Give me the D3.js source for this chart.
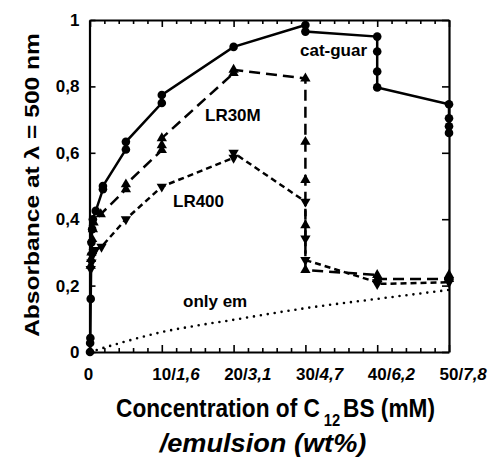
<!DOCTYPE html>
<html><head><meta charset="utf-8">
<script src="https://cdn.jsdelivr.net/npm/d3@7"></script>
<style>
html,body{margin:0;padding:0;background:#fff;}
svg{display:block;font-family:"Liberation Sans",Arial,Helvetica,sans-serif;}
</style></head>
<body>
<svg id="chart" width="489" height="458"></svg>
<script>
// ---- data ----
const catX = [0, 0.02, 0.05, 0.1, 0.2, 0.3, 0.4, 0.8, 1.8, 1.8, 5, 5, 10, 10, 20, 30, 30, 40, 40, 40, 40, 50, 50, 50, 50];
const catY = [0, 0.027, 0.042, 0.16, 0.33, 0.37, 0.40, 0.425, 0.49, 0.50, 0.61, 0.633, 0.75, 0.774, 0.919, 0.985, 0.965, 0.95, 0.905, 0.845, 0.797, 0.746, 0.704, 0.68, 0.66];
const lr30X = [0.1, 0.15, 0.2, 0.3, 0.4, 0.5, 1.5, 5, 5, 10, 10, 10, 20, 20, 30, 30, 30, 30, 30, 40, 40, 50, 50];
const lr30Y = [0.26, 0.28, 0.30, 0.34, 0.37, 0.39, 0.415, 0.49, 0.505, 0.608, 0.623, 0.644, 0.84, 0.85, 0.824, 0.633, 0.518, 0.382, 0.247, 0.232, 0.22, 0.22, 0.232];
const lr400X = [0.1, 0.2, 0.3, 0.5, 0.7, 1.6, 5, 10, 20, 20, 30, 30, 30, 40, 40, 50, 50];
const lr400Y = [0.25, 0.27, 0.29, 0.30, 0.307, 0.317, 0.40, 0.498, 0.585, 0.60, 0.453, 0.342, 0.277, 0.21, 0.205, 0.21, 0.215];
const emX = [0, 5, 10, 15, 20, 25, 30, 40, 50];
const emY = [0, 0.032, 0.06, 0.08, 0.097, 0.115, 0.132, 0.16, 0.187];
const xMajor = [0, 10, 20, 30, 40, 50];
const xLabMM = ["0", "10", "20", "30", "40", "50"];
const xLabWt = ["", "1,6", "3,1", "4,7", "6,2", "7,8"];
const yTicks = [0, 0.2, 0.4, 0.6, 0.8, 1];
const yLabels = ["0", "0,2", "0,4", "0,6", "0,8", "1"];
const seriesNames = ["cat-guar", "LR30M", "LR400", "only em"];

// ---- layout ----
const svg = d3.select("#chart");
const x = d3.scaleLinear().domain([0, 50]).range([90, 449]);
const y = d3.scaleLinear().domain([0, 1]).range([352, 20]);
const FONT = 17;

const minor = d3.range(0, 51, 2);

function styleAxis(g) {
  g.selectAll("path.domain").attr("stroke", "#000").attr("stroke-width", 2.2);
  g.selectAll(".tick line").attr("stroke", "#000").attr("stroke-width", 1.6);
}

// bottom axis (minor + major ticks inward)
const gB = svg.append("g").attr("transform", `translate(0,${y(0)})`)
  .call(d3.axisBottom(x).tickValues(minor).tickSize(-4).tickSizeOuter(0).tickFormat(""));
gB.selectAll(".tick line").attr("y2", d => (d % 10 === 0 ? -7 : -4));
styleAxis(gB);
// top axis
const gT = svg.append("g").attr("transform", `translate(0,${y(1)})`)
  .call(d3.axisTop(x).tickValues(minor).tickSize(-4).tickSizeOuter(0).tickFormat(""));
gT.selectAll(".tick line").attr("y2", d => (d % 10 === 0 ? 7 : 4));
styleAxis(gT);
// left axis
const gL = svg.append("g").attr("transform", `translate(${x(0) - 0.5},0)`)
  .call(d3.axisLeft(y).tickValues(yTicks).tickSize(-6).tickSizeOuter(0).tickPadding(10)
    .tickFormat((d, i) => yLabels[i]));
styleAxis(gL);
gL.selectAll(".tick text").attr("font-size", FONT).attr("font-weight", "bold").attr("fill", "#000")
  .attr("font-family", "Liberation Sans, Arial, sans-serif");
// right axis
const gR = svg.append("g").attr("transform", `translate(${x(50)},0)`)
  .call(d3.axisRight(y).tickValues(yTicks).tickSize(-7).tickSizeOuter(0).tickFormat(""));
styleAxis(gR);

// x tick labels: "10" centred on the tick, then "/" and italic wt%
xMajor.forEach((v, i) => {
  const t = svg.append("text").attr("y", 380).attr("font-size", FONT).attr("font-weight", "bold")
    .attr("text-anchor", "start");
  const a = t.append("tspan").text(xLabMM[i]);
  if (xLabWt[i]) {
    t.append("tspan").text("/");
    t.append("tspan").attr("font-style", "italic").text(xLabWt[i]);
  }
  const w = a.node().getComputedTextLength();
  t.attr("x", x(v) - w / 2 - (i === 0 ? 1.5 : 0));
});

// ---- lines ----
const line = d3.line().x(d => x(d[0])).y(d => y(d[1]));
const zip = (a, b) => a.map((v, i) => [v, b[i]]);
const cat = zip(catX, catY), lr30 = zip(lr30X, lr30Y), lr400 = zip(lr400X, lr400Y), em = zip(emX, emY);

const plot = svg.append("g");
plot.append("path").datum(em).attr("d", line.curve(d3.curveMonotoneX)).attr("fill", "none")
  .attr("stroke", "#000").attr("stroke-width", 2.6).attr("stroke-dasharray", "0,7").attr("stroke-linecap", "round");
line.curve(d3.curveLinear);
plot.append("path").datum(lr400).attr("d", line).attr("fill", "none")
  .attr("stroke", "#000").attr("stroke-width", 2.5).attr("stroke-dasharray", "6,4");
plot.append("path").datum(lr30).attr("d", line).attr("fill", "none")
  .attr("stroke", "#000").attr("stroke-width", 2.5).attr("stroke-dasharray", "11,6");
plot.append("path").datum(cat).attr("d", line).attr("fill", "none")
  .attr("stroke", "#000").attr("stroke-width", 2.5);

// markers
plot.selectAll("circle.cat").data(cat).join("circle").attr("class", "cat")
  .attr("cx", d => x(d[0])).attr("cy", d => y(d[1])).attr("r", 4.3).attr("fill", "#000");
const tri = d3.symbol().type(d3.symbolTriangle).size(46);
plot.selectAll("path.up").data(lr30).join("path").attr("class", "up").attr("d", tri)
  .attr("transform", d => `translate(${x(d[0])},${y(d[1])})`).attr("fill", "#000");
plot.selectAll("path.down").data(lr400).join("path").attr("class", "down").attr("d", tri)
  .attr("transform", d => `translate(${x(d[0])},${y(d[1])}) rotate(180)`).attr("fill", "#000");

// series labels
const labPos = [[300, 56], [205, 121], [173, 207], [183, 307]];
seriesNames.forEach((s, i) => {
  svg.append("text").attr("x", labPos[i][0]).attr("y", labPos[i][1]).attr("font-size", FONT)
    .attr("font-weight", "bold").text(s);
});

// ---- axis titles ----
function fitText(t, cx, base, targetW, sy) {
  const w = t.node().getBBox().width;
  t.attr("transform", `translate(${cx},${base}) scale(${targetW / w},${sy})`);
}
const xt1 = svg.append("text").attr("text-anchor", "middle").attr("font-size", 23).attr("font-weight", "bold");
xt1.append("tspan").text("Concentration of C");
xt1.append("tspan").attr("font-size", 15).attr("dx", 4).attr("dy", 8).text("12");
xt1.append("tspan").attr("dx", 3).attr("dy", -8).text("BS (mM)");
fitText(xt1, 275.5, 417, 319, 1.1);

const xt2 = svg.append("text").attr("text-anchor", "middle").attr("font-size", 24).attr("font-weight", "bold")
  .attr("font-style", "italic").text("/emulsion (wt%)");
fitText(xt2, 263, 452, 208, 1.05);

const yt = svg.append("text").attr("text-anchor", "middle").attr("font-size", 20).attr("font-weight", "bold")
  .text("Absorbance at λ = 500 nm");
const yw = yt.node().getBBox().width;
yt.attr("transform", `translate(39,185) rotate(-90) scale(${304 / yw},1)`);
</script>
</body></html>
